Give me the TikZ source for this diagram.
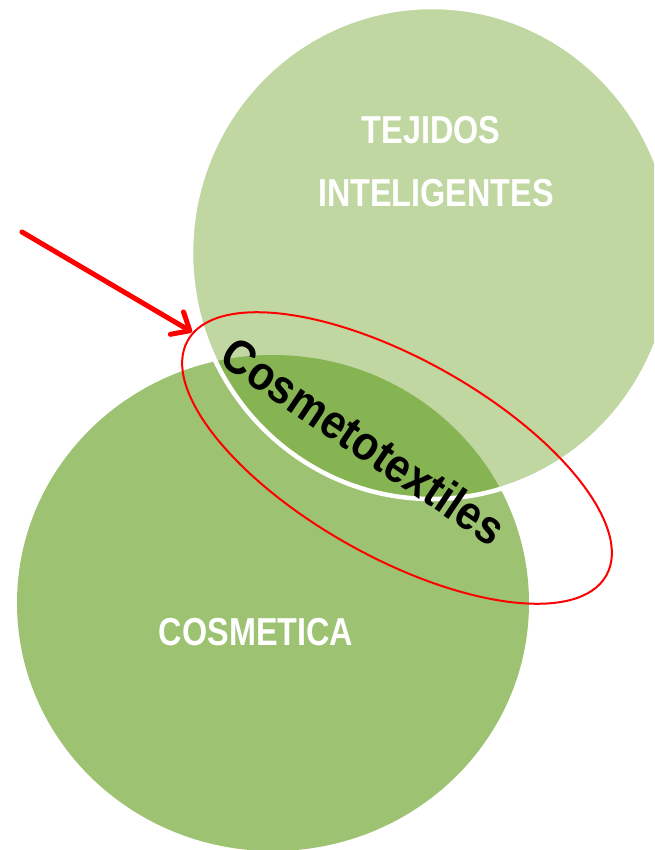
\documentclass[tikz,border=0pt]{standalone}
\usepackage{fontspec}
\setmainfont{Liberation Sans}
\newfontfamily\labelfont[FakeStretch=0.83]{Liberation Sans}
\newfontfamily\bigfont[FakeStretch=0.89]{Liberation Sans}
\usetikzlibrary{arrows.meta}
\definecolor{topgreen}{RGB}{192,215,162}
\definecolor{botgreen}{RGB}{157,195,114}
\definecolor{midgreen}{RGB}{135,180,83}
\definecolor{arrowred}{RGB}{255,0,0}
\tikzset{
  setlabel/.style={text=white, font=\labelfont\bfseries\fontsize{39}{44}\selectfont, inner sep=0pt},
  mainlabel/.style={text=black, font=\bigfont\bfseries\fontsize{48}{52}\selectfont, inner sep=0pt},
  ringstyle/.style={draw=arrowred, line width=2pt},
  pointer/.style={draw=arrowred, line width=5pt, line cap=round, -{Straight Barb[length=15pt,width=26pt,line cap=round,line join=round]}}
}
\begin{document}
\begin{tikzpicture}[x=1pt,y=-1pt]
\useasboundingbox (0,0) rectangle (654,850);
\clip (0,0) rectangle (654,850);
% COSMETICA circle
\fill[botgreen] (273,603) ellipse [x radius=256pt, y radius=248pt];
% TEJIDOS circle
\fill[topgreen] (432,253) ellipse [x radius=241pt, y radius=246pt];
% overlap
\begin{scope}
  \clip (273,603) ellipse [x radius=256pt, y radius=248pt];
  \fill[midgreen] (432,253) ellipse [x radius=241pt, y radius=246pt];
\end{scope}
\draw[white, line width=4.5pt] (432,253) ellipse [x radius=241pt, y radius=246pt];
% labels
\node[setlabel] (tej) at (431,130) {TEJIDOS};
\node[setlabel] (int) at (436,193) {INTELIGENTES};
\node[setlabel] (cos) at (256,632) {COSMETICA};
\node[mainlabel, rotate=-34] (cosmeto) at (364,441) {Cosmetotextiles};
% red ring
\draw[ringstyle, shift={(397,458)}, rotate=-29.3] (0,0) ellipse [x radius=240pt, y radius=99pt];
% arrow
\coordinate (arrowstart) at (22,232);
\coordinate (arrowtip) at (192,332);
\draw[pointer] (arrowstart) -- (arrowtip);
\end{tikzpicture}
\end{document}
